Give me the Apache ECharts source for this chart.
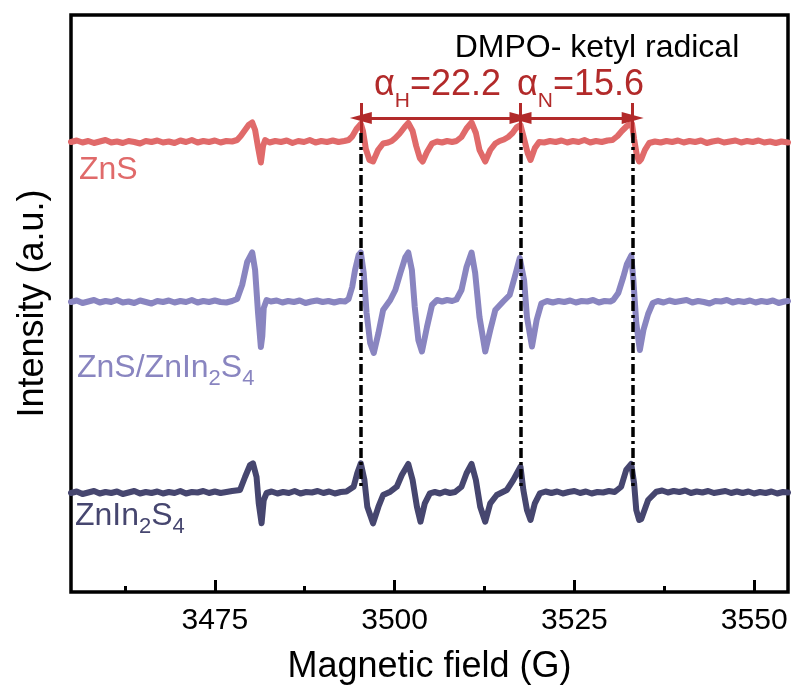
<!DOCTYPE html>
<html>
<head>
<meta charset="utf-8">
<script src="https://cdn.jsdelivr.net/npm/echarts@6/dist/echarts.min.js"></script>
<style>
  html, body { margin: 0; padding: 0; background: #fff; }
  #chart { width: 796px; height: 698px; }
</style>
</head>
<body>
<div id="chart"></div>
<script>
// Field window and tick positions (G)
const fieldMin = 3455;
const fieldMax = 3554.7;
const majorTicks = [3475, 3500, 3525, 3550];
const minorTicks = [3462.5, 3487.5, 3512.5, 3537.5];

// Hyperfine line positions used for the guides and the splitting labels (G)
const hyperfineFields = [3495.3, 3517.5, 3533.1];

// Stacked EPR traces: [field (G), intensity (a.u., offset per sample)]
const zns = [
  [3455.0,450],[3455.8,451.5],[3456.6,449.5],[3457.4,451],[3458.2,449],[3459.0,450.5],[3459.8,452],[3460.6,449.5],
  [3461.4,450.5],[3462.2,449],[3463.0,451],[3463.8,450],[3464.6,448.5],[3465.4,451],[3466.2,450],[3467.0,451.5],
  [3467.8,449.5],[3468.6,450.5],[3469.4,449],[3470.2,451.5],[3471.0,450],[3471.8,452],[3472.6,449.5],[3473.4,451],
  [3474.2,450],[3475.0,451.5],[3475.8,449.5],[3476.6,451],[3477.4,450.5],
  [3478.1,452],[3478.6,456],[3479.0,460],[3479.7,467],[3480.2,469.5],[3480.6,462],[3481.0,445],[3481.4,429.5],
  [3481.7,446],[3482.0,452],
  [3482.6,449.5],[3483.4,451],[3484.2,450],[3485.0,451.5],[3485.8,449],[3486.6,451],[3487.4,450],[3488.2,452],
  [3489.0,449.5],[3489.8,451],[3490.6,450],[3491.4,451.5],[3492.2,450],[3493.0,451],
  [3493.6,452],[3494.1,455.5],[3494.7,463],[3495.3,468],[3495.6,461],[3496.0,443],[3496.5,432],[3497.0,430.5],
  [3497.7,442],[3498.4,448.5],[3499.1,449.5],[3499.6,451],[3500.1,454],[3500.7,458.5],[3501.4,465],[3501.9,469],
  [3502.5,461],[3503.0,446],[3503.5,434],[3503.9,430.5],[3504.5,440],[3505.2,448.5],[3505.9,450.5],[3506.6,449.5],
  [3507.3,451],[3508.0,450],[3508.6,451],[3509.3,455],[3510.0,463.5],[3510.7,469.5],[3511.3,459],[3511.8,442],
  [3512.6,430.5],[3513.3,442],[3514.0,448.5],[3514.6,451],[3515.2,452.5],[3515.8,455],[3516.4,459],[3517.0,465],
  [3517.5,467],[3517.9,456],[3518.5,439],[3518.9,432],[3519.5,444],[3520.1,450],
  [3520.8,449.5],[3521.6,451],[3522.4,450],[3523.2,451.5],[3524.0,449.5],[3524.8,451],[3525.6,450],[3526.4,452],
  [3527.2,449.5],[3528.0,451],[3528.8,450],[3529.6,451.5],[3530.3,452],
  [3531.0,456],[3531.6,461],[3532.3,466],[3533.0,468.5],[3533.3,453],[3533.7,436],[3534.0,430.5],[3534.3,433],
  [3534.8,442],[3535.4,449],
  [3536.2,450.5],[3537.0,449.5],[3537.8,451],[3538.6,450],[3539.4,451.5],[3540.2,449.5],[3541.0,451],[3541.8,450],
  [3542.6,451.5],[3543.4,449],[3544.2,450.5],[3545.0,451.5],[3545.8,449.5],[3546.6,450.5],[3547.4,451.5],[3548.2,449.5],
  [3549.0,451],[3549.8,450],[3550.6,451.5],[3551.4,449.5],[3552.2,450.5],[3553.0,449],[3553.8,450.5],[3554.7,449.5]
];

const znsZnIn2S4 = [
  [3455.0,290],[3455.8,291.5],[3456.6,289],[3457.4,290.5],[3458.2,292],[3459.0,289.5],[3459.8,291],[3460.6,290],
  [3461.4,292],[3462.2,289.5],[3463.0,290.5],[3463.8,289],[3464.6,291.5],[3465.4,290],[3466.2,288.5],[3467.0,291],
  [3467.8,290],[3468.6,291.5],[3469.4,289.5],[3470.2,291],[3471.0,290],[3471.8,292],[3472.6,289.5],[3473.4,291],
  [3474.2,290],[3475.0,291.5],[3475.8,290],[3476.6,289.5],[3477.4,291],
  [3478.1,293],[3478.8,307],[3479.5,330],[3480.2,339.5],[3480.6,322],[3481.0,280],[3481.4,245],[3481.6,256],
  [3481.8,284],[3482.2,292],
  [3482.8,290.5],[3483.6,291.5],[3484.4,289.5],[3485.2,291],[3486.0,290],[3486.8,291.5],[3487.6,289],[3488.4,290.5],
  [3489.2,291.5],[3490.0,290],[3490.8,291],[3491.6,289.5],[3492.4,291],[3493.1,290.5],
  [3493.6,293],[3494.1,305],[3494.5,322],[3495.0,337],[3495.3,339.5],[3495.7,319],[3496.1,279],[3496.6,249],
  [3497.1,239],[3497.75,259],[3498.4,282],[3499.4,292],[3500.1,302],[3500.8,319],[3501.5,335],[3501.9,339.5],
  [3502.4,322],[3502.8,285],[3503.3,252],[3503.8,240.5],[3504.5,265],[3505.2,287],[3505.9,292],[3506.6,290.5],
  [3507.3,292],[3508.0,291],[3508.6,292.5],[3509.3,302],[3510.0,325],[3510.7,339.5],[3511.2,319],[3511.8,275],
  [3512.6,240.5],[3513.3,262],[3514.0,282],[3515.1,290.5],[3516.0,297],[3516.7,315],[3517.4,334],[3518.0,312],
  [3518.4,275],[3519.1,245.5],[3519.75,272],[3520.4,288.5],
  [3521.2,291],[3522.0,289.5],[3522.8,291],[3523.6,290],[3524.4,291.5],[3525.2,289.5],[3526.0,291],[3526.8,290.5],
  [3527.6,292],[3528.4,289.5],[3529.2,291],[3530.0,290.5],[3530.4,292],
  [3531.1,299],[3531.8,315],[3532.3,328],[3532.9,336.5],[3533.2,312],[3533.6,269],[3534.1,242],[3534.6,262],
  [3535.25,278],[3535.9,289],
  [3536.6,291],[3537.4,289.5],[3538.2,291.5],[3539.0,290],[3539.8,291],[3540.6,292],[3541.4,289.5],[3542.2,291],
  [3543.0,290],[3543.8,288.5],[3544.6,291],[3545.4,290.5],[3546.2,292],[3547.0,289.5],[3547.8,291],[3548.6,290],
  [3549.4,291.5],[3550.2,289.5],[3551.0,291],[3551.8,290],[3552.6,291.5],[3553.4,289],[3554.2,290.5],[3554.7,291]
];

const znIn2S4 = [
  [3455.0,99],[3455.8,100.5],[3456.6,98],[3457.4,99.5],[3458.2,101],[3459.0,98.5],[3459.8,100],[3460.6,99],
  [3461.4,100.5],[3462.2,98],[3463.0,99.5],[3463.8,101],[3464.6,98.5],[3465.4,100],[3466.2,99],[3467.0,100.5],
  [3467.8,98.5],[3468.6,100],[3469.4,99],[3470.2,101],[3471.0,98.5],[3471.8,100],[3472.6,99.5],[3473.4,101],
  [3474.2,99],[3475.0,100.5],[3475.8,99],[3476.6,100],[3477.4,101],
  [3478.5,102],[3479.2,115],[3479.9,127],[3480.3,128.7],[3480.8,115],[3481.1,89],[3481.5,68.7],[3481.8,92],
  [3482.2,99],
  [3482.9,100.5],[3483.7,98.5],[3484.5,100],[3485.3,99],[3486.1,101],[3486.9,98.5],[3487.7,100],[3488.5,99.5],
  [3489.3,101],[3490.1,99],[3490.9,100.5],[3491.7,98.5],[3492.5,100],[3493.3,100.5],
  [3494.3,105.3],[3494.8,118.7],[3495.3,128.7],[3495.8,112],[3496.2,85.3],[3497.0,68.7],[3497.75,85.3],[3498.4,97],
  [3499.4,100.3],[3500.3,105.3],[3501.0,117],[3501.9,128],[3502.5,112],[3503.1,85.3],[3503.6,70.3],[3504.2,88.7],
  [3504.9,98.7],
  [3505.6,100],[3506.3,98.5],[3507.0,100.5],[3507.7,99],[3508.4,100],
  [3509.3,105.3],[3510.0,118.7],[3510.7,128],[3511.3,112],[3511.9,85.3],[3512.6,70.3],[3513.3,88.7],[3514.2,97],
  [3515.6,102],[3516.5,112],[3517.5,125.3],[3517.9,102],[3518.4,82],[3518.9,72],[3519.5,88.7],[3520.2,98.7],
  [3521.0,100.5],[3521.8,99],[3522.6,100.5],[3523.4,98.5],[3524.2,100],[3525.0,101],[3525.8,99],[3526.6,100.5],
  [3527.4,98.5],[3528.2,100],[3529.0,99.5],[3529.8,101],[3530.6,100],
  [3531.5,105.3],[3532.2,122],[3532.9,128],[3533.3,108.7],[3533.6,82],[3534.0,72],[3534.3,73],[3535.25,92],
  [3536.4,100.3],
  [3537.2,101.5],[3538.0,99.5],[3538.8,101],[3539.6,100],[3540.4,101.5],[3541.2,99],[3542.0,100.5],[3542.8,99.5],
  [3543.6,101],[3544.4,99],[3545.2,100],[3546.0,101],[3546.8,99],[3547.6,100.5],[3548.4,99],[3549.2,100.5],
  [3550.0,98.5],[3550.8,100],[3551.6,99],[3552.4,100.5],[3553.2,98.5],[3554.0,100],[3554.7,99.5]
];

// Vertical levels (a.u.) of the guide lines and the splitting arrows
const guideTop = 459;
const guideBottom = 104;
const arrowLevel = 474;
const capTop = 489;

const FONT = '"Liberation Sans", Arial, sans-serif';
const RED = '#e06a6a';
const LAVENDER = '#8985c0';
const NAVY = '#46466f';
const ANNOT = '#b22a2a';

const aH = (hyperfineFields[1] - hyperfineFields[0]).toFixed(1);
const aN = (hyperfineFields[2] - hyperfineFields[1]).toFixed(1);

const chart = echarts.init(document.getElementById('chart'), null, { renderer: 'canvas' });

function trace(name, data, color) {
  return {
    name, type: 'line', data, symbol: 'none', smooth: false, z: 3,
    lineStyle: { color, width: 6, join: 'round', cap: 'round' },
    emphasis: { disabled: true }
  };
}

const guides = hyperfineFields.map(f => [{ coord: [f, guideTop] }, { coord: [f, guideBottom] }]);
const caps = hyperfineFields.map(f => [{ coord: [f, capTop] }, { coord: [f, guideTop] }]);
const arrows = [
  [{ coord: [hyperfineFields[0], arrowLevel] }, { coord: [hyperfineFields[1], arrowLevel] }],
  [{ coord: [hyperfineFields[1], arrowLevel] }, { coord: [hyperfineFields[2], arrowLevel] }]
];

function richLabel(parts, size, subSize, drop, color) {
  return {
    text: parts, verticalAlign: 'middle',
    rich: {
      m: { fontFamily: FONT, fontSize: size, fill: color },
      s: { fontFamily: FONT, fontSize: subSize, fill: color, padding: [drop, 0, 0, 0] }
    }
  };
}

chart.setOption({
  animation: false,
  backgroundColor: '#fff',
  grid: {
    left: 71, right: 8, top: 15, bottom: 106,
    show: true, borderColor: '#000', borderWidth: 3.5, backgroundColor: 'transparent'
  },
  xAxis: [
    {
      type: 'value', min: fieldMin, max: fieldMax,
      name: 'Magnetic field (G)', nameLocation: 'middle', nameGap: 57,
      nameTextStyle: { fontFamily: FONT, fontSize: 36, color: '#000' },
      axisLine: { show: false },
      axisTick: { show: true, inside: true, length: 12, customValues: majorTicks,
                  lineStyle: { color: '#000', width: 3 } },
      axisLabel: { show: true, customValues: majorTicks, fontFamily: FONT, fontSize: 30,
                   color: '#000', margin: 14, formatter: v => String(v) },
      splitLine: { show: false }
    },
    {
      type: 'value', min: fieldMin, max: fieldMax, position: 'bottom',
      axisLine: { show: false },
      axisTick: { show: true, inside: true, length: 6, customValues: minorTicks,
                  lineStyle: { color: '#000', width: 3 } },
      axisLabel: { show: false },
      splitLine: { show: false }
    }
  ],
  yAxis: {
    type: 'value', min: 0, max: 577,
    name: 'Intensity (a.u.)', nameLocation: 'middle', nameGap: 20,
    nameTextStyle: { fontFamily: FONT, fontSize: 36, color: '#000' },
    axisLine: { show: false }, axisTick: { show: false }, axisLabel: { show: false },
    splitLine: { show: false }
  },
  series: [
    trace('ZnS', zns, RED),
    trace('ZnS/ZnIn2S4', znsZnIn2S4, LAVENDER),
    trace('ZnIn2S4', znIn2S4, NAVY),
    {
      type: 'line', data: [], z: 10, silent: true,
      markLine: {
        silent: true, symbol: 'none', animation: false,
        label: { show: false },
        lineStyle: { color: '#000', width: 3.5, type: [10, 4, 3, 4] },
        emphasis: { disabled: true },
        data: guides
      }
    },
    {
      type: 'line', data: [], z: 11, silent: true,
      markLine: {
        silent: true, symbol: 'none', animation: false,
        label: { show: false },
        lineStyle: { color: ANNOT, width: 3, type: 'solid' },
        emphasis: { disabled: true },
        data: caps
      }
    },
    {
      type: 'line', data: [], z: 11, silent: true,
      markLine: {
        silent: true, symbol: ['triangle', 'triangle'], symbolSize: [12, 22], animation: false,
        label: { show: false },
        lineStyle: { color: ANNOT, width: 3, type: 'solid' },
        itemStyle: { color: ANNOT },
        emphasis: { disabled: true },
        data: arrows
      }
    }
  ],
  graphic: [
    { type: 'text', x: 79, y: 170, z: 20,
      style: { text: 'ZnS', fontFamily: FONT, fontSize: 32, fill: RED, verticalAlign: 'middle' } },
    { type: 'text', x: 77, y: 368, z: 20,
      style: richLabel('{m|ZnS/ZnIn}{s|2}{m|S}{s|4}', 32, 22, 22, LAVENDER) },
    { type: 'text', x: 75, y: 516, z: 20,
      style: richLabel('{m|ZnIn}{s|2}{m|S}{s|4}', 32, 22, 22, NAVY) },
    { type: 'text', x: 597, y: 48, z: 20,
      style: { text: 'DMPO- ketyl radical', fontFamily: FONT, fontSize: 32, fill: '#000',
               align: 'center', verticalAlign: 'middle' } },
    { type: 'text', x: 374, y: 85, z: 20,
      style: richLabel('{m|α}{s|H}{m|=' + aH + '}', 36, 21, 32, ANNOT) },
    { type: 'text', x: 517, y: 85, z: 20,
      style: richLabel('{m|α}{s|N}{m|=' + aN + '}', 36, 21, 32, ANNOT) }
  ]
});
</script>
</body>
</html>
